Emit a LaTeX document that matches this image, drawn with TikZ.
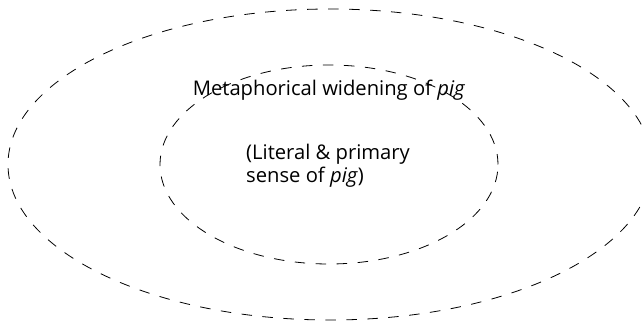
\documentclass[tikz,border=0pt]{standalone}
\usepackage{fontspec}
\setsansfont{Open Sans}
\usetikzlibrary{shapes.geometric}

\begin{document}
\begin{tikzpicture}[x=1pt, y=-1pt,
  sense/.style={ellipse, draw, dash pattern=on 10.5pt off 10.5pt, line width=0.8pt, inner sep=0pt},
  label text/.style={font=\sffamily\fontsize{20.2}{23.5}\selectfont, inner sep=0pt}]

\useasboundingbox (0,0) rectangle (642,323);

\node[sense, minimum width=644pt, minimum height=311pt] (outer) at (330,164.5) {};
\node[sense, minimum width=338pt, minimum height=199pt] (inner) at (329,164.5) {};

\node[label text] (wide) at (329,90) {Metaphorical widening of \textit{pig}};
\node[label text, align=left, anchor=west] (lit) at (246,166) {(Literal \& primary\\sense of \textit{pig})};

\end{tikzpicture}
\end{document}
